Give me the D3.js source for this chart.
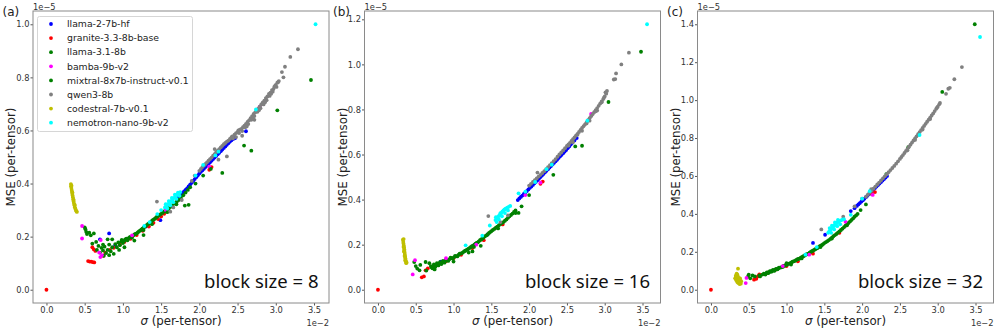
<!DOCTYPE html>
<html><head><meta charset="utf-8">
<script src="https://cdn.jsdelivr.net/npm/d3@7"></script>
<style>body{margin:0;background:#fff}</style></head>
<body><div id="chart"></div>
<script>
// ---------- labels / ticks ----------
const models = ["llama-2-7b-hf","granite-3.3-8b-base","llama-3.1-8b","bamba-9b-v2","mixtral-8x7b-instruct-v0.1","qwen3-8b","codestral-7b-v0.1","nemotron-nano-9b-v2"];
const modelColors = ["#0000ff","#ff0000","#008000","#ff00ff","#008000","#808080","#bfbf00","#00ffff"];
const panelLabels = ["(a)","(b)","(c)"];
const blockSizes = [8,16,32];
const xTicks = [0.0,0.5,1.0,1.5,2.0,2.5,3.0,3.5];
const yTicksA = [0.0,0.2,0.4,0.6,0.8,1.0];
const yTicksB = [0.0,0.2,0.4,0.6,0.8,1.0,1.2];
const yTicksC = [0.0,0.2,0.4,0.6,0.8,1.0,1.2,1.4];
// values: sigma in units of 1e-2, MSE in units of 1e-5

// ---------- panel (a): block size 8 ----------
const a_llama2 = [[0.820,0.212],[0.700,0.190],[0.900,0.168],[1.490,0.262],[1.720,0.350],[1.760,0.358],[1.800,0.370],[1.840,0.382],[1.880,0.396],[1.920,0.410],[1.960,0.424],[2.000,0.438],[2.040,0.450],[2.080,0.462],[2.120,0.474],[2.160,0.486],[2.200,0.498],[2.240,0.510],[2.280,0.522],[2.320,0.534],[2.360,0.546],[2.400,0.558],[2.440,0.568],[2.470,0.572],[2.610,0.597],[1.300,0.238],[1.100,0.196],
  [1.74,0.354],[1.78,0.364],[1.82,0.376],[1.86,0.389],[1.90,0.403],[1.94,0.417],[1.98,0.431],[2.02,0.444],[2.06,0.456],[2.10,0.468],[2.14,0.480],[2.18,0.492],[2.22,0.504],[2.26,0.516],[2.30,0.528],[2.34,0.540],[2.38,0.552],[2.42,0.563],[2.455,0.570]];
const a_granite = [[0.000,0.000],[0.545,0.108],[0.565,0.106],[0.585,0.106],[0.605,0.104],[0.625,0.103],[0.600,0.160],[0.620,0.152],[0.640,0.146],[0.745,0.128],[0.770,0.140],[0.830,0.150],[0.880,0.158],[0.960,0.170],[1.020,0.180],[1.100,0.192],[1.180,0.206],[1.260,0.222],[1.340,0.238],[1.400,0.252],[1.460,0.266],[1.500,0.276],[1.540,0.286],[2.130,0.452],[2.160,0.462],[1.700,0.332]];
const a_llama31 = [[0.510,0.228],[0.520,0.218],[0.530,0.210],[0.500,0.235],[0.620,0.212],[0.600,0.174],[0.660,0.150],[0.680,0.165],[0.700,0.140],[0.720,0.158],[0.740,0.148],[0.760,0.162],[0.780,0.138],[0.800,0.150],[0.820,0.170],[0.840,0.145],[0.860,0.160],[0.880,0.135],[0.900,0.172],[0.920,0.160],[0.940,0.178],[0.960,0.168],[0.980,0.182],[1.000,0.176],[1.030,0.190],[1.060,0.186],[1.090,0.198],[1.120,0.196],[1.150,0.208],[1.180,0.212],[1.210,0.220],[1.240,0.226],[1.270,0.234],[1.300,0.240],[1.330,0.248],[1.360,0.254],[1.390,0.262],[1.420,0.268],[1.450,0.276],[1.480,0.282],[1.520,0.290],[1.560,0.300],[1.600,0.306],[1.640,0.318],[1.700,0.330],[1.760,0.346],[1.820,0.366],[1.880,0.386],[0.860,0.190],[0.950,0.150],[1.020,0.160],[1.150,0.185],[0.750,0.128],[0.820,0.130],[1.270,0.225],
  [0.985,0.188],[1.015,0.183],[1.045,0.192],[1.075,0.194],[1.105,0.200],[1.135,0.204],[1.165,0.210],[1.195,0.216],[1.225,0.223],[1.255,0.230],[1.285,0.237],[1.315,0.244],[1.345,0.251],[1.375,0.258],[1.405,0.265],[1.435,0.272],[1.465,0.279],[1.500,0.286],[1.540,0.295],[1.580,0.303],[1.620,0.312],[1.670,0.324],[1.730,0.338],[1.790,0.356],[1.850,0.376]];
const a_bamba = [[0.466,0.240],[0.466,0.193],[0.710,0.187],[0.705,0.123],[0.725,0.130],[0.690,0.140],[1.560,0.300],[2.130,0.464],[1.120,0.205],[2.790,0.690]];
const a_mixtral = [[3.460,0.790],[3.020,0.676],[2.585,0.543],[2.680,0.524],[2.300,0.440],[1.810,0.317],[1.860,0.320],[1.270,0.206],[1.380,0.247],[0.560,0.215],[0.580,0.205],[0.650,0.180],[1.950,0.400],[2.050,0.430],[2.150,0.455],[1.700,0.322],[1.580,0.292],[0.800,0.190],[0.740,0.170]];
const a_qwen = [[2.000,0.448],[2.060,0.468],[2.100,0.480],[2.140,0.492],[2.180,0.505],[2.220,0.518],[2.260,0.530],[2.300,0.542],[2.340,0.553],[2.380,0.562],[2.420,0.574],[2.440,0.570],[2.460,0.584],[2.500,0.594],[2.520,0.590],[2.550,0.606],[2.560,0.598],[2.590,0.618],[2.600,0.612],[2.630,0.632],[2.640,0.624],[2.670,0.646],[2.680,0.640],[2.710,0.662],[2.720,0.654],[2.750,0.676],[2.760,0.670],[2.790,0.690],[2.800,0.684],[2.830,0.706],[2.840,0.698],[2.870,0.722],[2.880,0.714],[2.910,0.738],[2.920,0.730],[2.950,0.752],[2.960,0.746],[2.980,0.764],[3.000,0.772],[3.020,0.780],[3.040,0.786],[3.010,0.764],[2.560,0.580],[2.480,0.575],[2.720,0.640],[2.360,0.502],[2.250,0.490],[3.080,0.820],[3.120,0.840],[3.100,0.800],[3.190,0.877],[3.290,0.906],[1.445,0.332],[1.620,0.294],[1.660,0.310],[1.770,0.338],[1.940,0.430],[1.900,0.410],[2.200,0.530],
  [2.02,0.455],[2.04,0.462],[2.08,0.474],[2.12,0.486],[2.16,0.498],[2.20,0.511],[2.24,0.524],[2.28,0.536],[2.32,0.548],[2.36,0.558],[2.40,0.568],[2.43,0.578],[2.48,0.590],[2.51,0.600],[2.53,0.603],[2.57,0.612],[2.61,0.625],[2.65,0.638],[2.69,0.654],[2.73,0.668],[2.77,0.682],[2.81,0.698],[2.85,0.712],[2.89,0.728],[2.93,0.742],[2.97,0.756],[2.99,0.768],[3.03,0.782],[2.62,0.615],[2.70,0.645],[2.78,0.676],[2.86,0.706],[2.94,0.738]];
const a_codestral = [[0.320,0.398],[0.322,0.390],[0.326,0.383],[0.330,0.376],[0.334,0.369],[0.338,0.362],[0.342,0.355],[0.346,0.348],[0.350,0.340],[0.355,0.332],[0.360,0.325],[0.366,0.318],[0.372,0.311],[0.378,0.305],[0.385,0.300],[0.392,0.296],[0.398,0.293],[0.328,0.392],[0.340,0.366],[0.356,0.338],[0.370,0.320]];
const a_nemotron = [[1.550,0.310],[1.570,0.316],[1.590,0.322],[1.610,0.328],[1.630,0.334],[1.650,0.340],[1.670,0.346],[1.690,0.352],[1.710,0.358],[1.730,0.364],[1.750,0.368],[1.560,0.322],[1.600,0.334],[1.640,0.346],[1.680,0.358],[1.720,0.366],[1.580,0.306],[1.620,0.318],[1.660,0.330],[1.700,0.342],[1.740,0.354],[1.450,0.285],[1.350,0.255],[1.500,0.300],[1.950,0.430],[2.050,0.470],[2.210,0.506],[2.250,0.520],[2.740,0.679],[3.520,1.000],[1.280,0.240]];

// ---------- panel (b): block size 16 ----------
const b_llama2 = [[1.850,0.398],[1.890,0.412],[1.930,0.425],[1.970,0.438],[2.010,0.452],[2.050,0.465],[2.090,0.479],[2.130,0.493],[2.170,0.507],[2.210,0.521],[2.250,0.535],[2.290,0.549],[2.330,0.563],[2.370,0.577],[2.410,0.592],[2.450,0.606],[2.490,0.620],[2.530,0.636],[2.570,0.652],[2.630,0.673],[1.450,0.245],[0.830,0.125],[1.260,0.195],
  [1.87,0.405],[1.91,0.418],[1.95,0.432],[1.99,0.445],[2.03,0.458],[2.07,0.472],[2.11,0.486],[2.15,0.500],[2.19,0.514],[2.23,0.528],[2.27,0.542],[2.31,0.556],[2.35,0.570],[2.39,0.585],[2.43,0.599],[2.47,0.613],[2.51,0.628],[2.55,0.644],[2.60,0.662]];
const b_granite = [[0.000,0.000],[0.580,0.055],[0.608,0.059],[0.630,0.086],[0.660,0.095],[0.720,0.100],[0.800,0.112],[0.900,0.126],[1.000,0.140],[1.100,0.155],[1.250,0.185],[1.400,0.220],[1.650,0.290],[2.150,0.470],[2.180,0.480]];
const b_llama31 = [[0.480,0.123],[0.520,0.094],[0.550,0.086],[0.630,0.123],[0.700,0.105],[0.720,0.095],[0.740,0.112],[0.760,0.102],[0.780,0.118],[0.800,0.108],[0.820,0.122],[0.840,0.114],[0.860,0.128],[0.880,0.120],[0.900,0.134],[0.930,0.128],[0.960,0.142],[0.990,0.138],[1.020,0.150],[1.050,0.148],[1.080,0.160],[1.110,0.162],[1.140,0.170],[1.170,0.176],[1.200,0.182],[1.230,0.190],[1.260,0.196],[1.290,0.205],[1.320,0.210],[1.350,0.220],[1.380,0.226],[1.410,0.236],[1.440,0.242],[1.470,0.252],[1.500,0.260],[1.540,0.270],[1.580,0.280],[1.620,0.292],[1.660,0.300],[1.700,0.312],[1.740,0.326],[1.780,0.338],[1.820,0.352],[0.680,0.118],[0.750,0.090],[1.000,0.125],[1.200,0.165],[1.360,0.195],
  [0.71,0.100],[0.73,0.104],[0.75,0.107],[0.77,0.110],[0.79,0.113],[0.81,0.115],[0.83,0.118],[0.85,0.121],[0.87,0.124],[0.89,0.127],[0.915,0.131],[0.945,0.135],[0.975,0.140],[1.005,0.144],[1.035,0.149],[1.065,0.154],[1.095,0.160],[1.125,0.166],[1.155,0.173],[1.185,0.179],[1.215,0.186],[1.245,0.193],[1.275,0.200],[1.305,0.208],[1.335,0.215],[1.365,0.223],[1.395,0.231],[1.425,0.239],[1.455,0.247],[1.485,0.256],[1.52,0.265],[1.56,0.275],[1.60,0.286],[1.64,0.296],[1.68,0.306],[1.72,0.319],[1.76,0.332],[1.80,0.345]];
const b_bamba = [[0.460,0.068],[0.490,0.131],[0.900,0.140],[1.300,0.200],[2.820,0.780],[2.150,0.475],[1.950,0.420]];
const b_mixtral = [[3.480,1.056],[3.050,0.833],[2.610,0.636],[2.700,0.639],[2.320,0.510],[1.820,0.340],[1.860,0.341],[1.270,0.190],[0.500,0.105],[0.640,0.085],[0.560,0.110],[1.900,0.370],[2.000,0.420],[1.590,0.272],[1.250,0.170]];
const b_qwen = [[2.000,0.462],[2.050,0.478],[2.100,0.494],[2.150,0.510],[2.200,0.526],[2.250,0.544],[2.300,0.562],[2.350,0.580],[2.400,0.600],[2.450,0.618],[2.500,0.638],[2.540,0.652],[2.580,0.668],[2.620,0.684],[2.660,0.700],[2.700,0.718],[2.740,0.734],[2.780,0.752],[2.820,0.770],[2.860,0.788],[2.900,0.806],[2.940,0.826],[2.980,0.846],[3.000,0.858],[3.020,0.870],[3.030,0.882],[3.010,0.876],[2.960,0.832],[2.880,0.792],[2.760,0.738],[2.640,0.688],[2.520,0.640],[3.120,0.933],[3.140,0.935],[3.150,0.960],[3.220,1.000],[3.320,1.052],[1.460,0.327],[1.620,0.300],[2.110,0.520],[1.720,0.330],
  [2.025,0.470],[2.075,0.486],[2.125,0.502],[2.175,0.518],[2.225,0.535],[2.275,0.553],[2.325,0.571],[2.375,0.590],[2.425,0.609],[2.475,0.628],[2.52,0.645],[2.56,0.660],[2.60,0.676],[2.64,0.692],[2.68,0.709],[2.72,0.726],[2.76,0.743],[2.80,0.761],[2.84,0.779],[2.88,0.797],[2.92,0.816],[2.96,0.836],[2.99,0.852],[2.70,0.705],[2.80,0.750],[2.90,0.795],[2.58,0.655]];
const b_codestral = [[0.330,0.222],[0.340,0.225],[0.335,0.212],[0.338,0.204],[0.342,0.196],[0.345,0.188],[0.348,0.180],[0.350,0.172],[0.353,0.164],[0.356,0.156],[0.359,0.148],[0.362,0.140],[0.366,0.132],[0.370,0.125],[0.374,0.118],[0.378,0.122],[0.360,0.130],[0.352,0.150],[0.344,0.170],[0.338,0.190]];
const b_nemotron = [[1.555,0.309],[1.570,0.316],[1.585,0.322],[1.600,0.328],[1.615,0.334],[1.630,0.340],[1.645,0.346],[1.660,0.352],[1.675,0.356],[1.690,0.360],[1.710,0.364],[1.730,0.368],[1.750,0.372],[1.570,0.300],[1.600,0.312],[1.640,0.326],[1.680,0.340],[1.720,0.352],[1.560,0.322],[1.620,0.340],[1.480,0.285],[1.950,0.435],[2.080,0.478],[2.230,0.535],[2.770,0.750],[3.560,1.178],[1.380,0.240],[1.160,0.197],[2.300,0.555],[1.860,0.428]];

// ---------- panel (c): block size 32 ----------
const c_llama2 = [[1.950,0.450],[1.990,0.465],[2.030,0.480],[2.070,0.496],[2.110,0.512],[2.150,0.528],[2.190,0.544],[2.230,0.560],[2.270,0.576],[2.310,0.592],[2.330,0.600],[1.350,0.247],[1.510,0.290],[1.900,0.430],[1.850,0.415],
  [1.97,0.457],[2.01,0.472],[2.05,0.488],[2.09,0.504],[2.13,0.520],[2.17,0.536],[2.21,0.552],[2.25,0.568],[2.29,0.584],[1.93,0.442]];
const c_granite = [[0.000,0.000],[0.570,0.053],[0.600,0.058],[0.620,0.070],[0.640,0.081],[0.750,0.090],[0.850,0.105],[1.000,0.125],[1.150,0.150],[1.350,0.190],[1.700,0.300],[2.130,0.505],[2.170,0.515]];
const c_llama31 = [[0.490,0.070],[0.520,0.060],[0.580,0.070],[0.700,0.085],[0.720,0.080],[0.740,0.092],[0.760,0.088],[0.780,0.098],[0.800,0.095],[0.820,0.104],[0.840,0.100],[0.860,0.110],[0.880,0.108],[0.900,0.116],[0.930,0.118],[0.960,0.126],[0.990,0.128],[1.020,0.136],[1.050,0.140],[1.080,0.148],[1.110,0.152],[1.140,0.160],[1.170,0.164],[1.200,0.172],[1.230,0.178],[1.260,0.186],[1.290,0.190],[1.320,0.200],[1.350,0.206],[1.380,0.214],[1.410,0.220],[1.440,0.230],[1.470,0.236],[1.500,0.246],[1.540,0.256],[1.580,0.268],[1.620,0.282],[1.660,0.294],[1.700,0.308],[1.740,0.322],[1.780,0.338],[1.820,0.352],[1.860,0.368],[1.900,0.385],[1.940,0.400],[0.640,0.075],[0.680,0.080],[1.000,0.140],[0.950,0.120],[1.060,0.133],
  [0.71,0.083],[0.73,0.086],[0.75,0.090],[0.77,0.093],[0.79,0.096],[0.81,0.099],[0.83,0.102],[0.85,0.105],[0.87,0.109],[0.89,0.112],[0.915,0.117],[0.945,0.122],[0.975,0.127],[1.005,0.132],[1.035,0.138],[1.065,0.144],[1.095,0.150],[1.125,0.156],[1.155,0.162],[1.185,0.168],[1.215,0.175],[1.245,0.182],[1.275,0.188],[1.305,0.195],[1.335,0.203],[1.365,0.210],[1.395,0.217],[1.425,0.225],[1.455,0.233],[1.485,0.241],[1.52,0.251],[1.56,0.262],[1.60,0.275],[1.64,0.288],[1.68,0.301],[1.72,0.315],[1.76,0.330],[1.80,0.345],[1.84,0.360],[1.88,0.376],[1.92,0.392]];
const c_bamba = [[0.460,0.035],[0.470,0.062],[1.780,0.358],[2.140,0.500],[0.950,0.125],[1.300,0.185]];
const c_mixtral = [[3.490,1.400],[3.060,1.043],[2.610,0.752],[2.320,0.610],[0.550,0.075],[0.500,0.080],[0.650,0.070],[1.200,0.165],[1.600,0.270],[1.980,0.420],[2.050,0.450],[1.450,0.225],[1.800,0.340]];
const c_qwen = [[2.050,0.490],[2.100,0.512],[2.150,0.533],[2.200,0.555],[2.250,0.576],[2.300,0.598],[2.350,0.620],[2.400,0.642],[2.450,0.665],[2.500,0.690],[2.540,0.710],[2.580,0.732],[2.620,0.754],[2.660,0.776],[2.700,0.798],[2.740,0.820],[2.780,0.842],[2.820,0.864],[2.860,0.886],[2.900,0.908],[2.940,0.930],[2.980,0.954],[3.000,0.965],[3.020,0.978],[3.030,0.985],[3.110,1.033],[3.140,1.060],[3.160,1.065],[3.220,1.110],[3.320,1.174],[1.460,0.318],[1.750,0.385],[2.000,0.480],[2.120,0.530],[1.900,0.440],
  [2.075,0.501],[2.125,0.522],[2.175,0.544],[2.225,0.565],[2.275,0.587],[2.325,0.609],[2.375,0.631],[2.425,0.653],[2.475,0.677],[2.52,0.700],[2.56,0.721],[2.60,0.743],[2.64,0.765],[2.68,0.787],[2.72,0.809],[2.76,0.831],[2.80,0.853],[2.84,0.875],[2.88,0.897],[2.92,0.919],[2.96,0.942],[2.99,0.960],[2.70,0.790],[2.80,0.845],[2.90,0.900],[2.60,0.735]];
const c_codestral = [[0.320,0.060],[0.330,0.075],[0.335,0.050],[0.340,0.085],[0.345,0.065],[0.350,0.040],[0.355,0.072],[0.360,0.055],[0.362,0.035],[0.368,0.062],[0.372,0.045],[0.378,0.030],[0.382,0.052],[0.388,0.040],[0.395,0.032],[0.400,0.045],[0.330,0.068],[0.348,0.080],[0.358,0.111],[0.366,0.050],[0.385,0.060]];
const c_nemotron = [[1.550,0.300],[1.565,0.308],[1.580,0.316],[1.595,0.322],[1.610,0.330],[1.625,0.336],[1.640,0.342],[1.655,0.348],[1.670,0.354],[1.685,0.358],[1.700,0.362],[1.720,0.366],[1.740,0.370],[1.760,0.372],[1.570,0.325],[1.600,0.338],[1.640,0.355],[1.680,0.368],[1.590,0.300],[1.630,0.318],[1.670,0.335],[1.710,0.345],[1.250,0.185],[1.400,0.225],[2.000,0.480],[2.100,0.520],[2.760,0.816],[3.560,1.333],[1.850,0.395]];

const panelSeries = [
  [a_llama2,a_granite,a_llama31,a_bamba,a_mixtral,a_qwen,a_codestral,a_nemotron],
  [b_llama2,b_granite,b_llama31,b_bamba,b_mixtral,b_qwen,b_codestral,b_nemotron],
  [c_llama2,c_granite,c_llama31,c_bamba,c_mixtral,c_qwen,c_codestral,c_nemotron]
];
const panelYTicks = [yTicksA, yTicksB, yTicksC];

// ---------- drawing ----------
(function(){
const W = 997, H = 332;
const svg = d3.select("#chart").append("svg").attr("width", W).attr("height", H)
  .style("font-family", "'DejaVu Sans', sans-serif");
const lefts = [33, 364.5, 697.5], pw = 296, topY = 11, bottomY = 303;
const fmt = d3.format(".1f");

panelSeries.forEach((series, pi) => {
  const all = series.flat();
  const xe = d3.extent(all, d => d[0]), ye = d3.extent(all, d => d[1]);
  const xm = (xe[1]-xe[0])*0.05, ym = (ye[1]-ye[0])*0.05;
  const L = lefts[pi];
  const x = d3.scaleLinear().domain([xe[0]-xm, xe[1]+xm]).range([L, L+pw]);
  const y = d3.scaleLinear().domain([ye[0]-ym, ye[1]+ym]).range([bottomY, topY]);
  const g = svg.append("g");

  const xa = g.append("g").attr("transform", `translate(0,${bottomY})`)
    .call(d3.axisBottom(x).tickValues(xTicks).tickFormat(fmt).tickSize(2.5).tickPadding(1.2));
  const ya = g.append("g").attr("transform", `translate(${L},0)`)
    .call(d3.axisLeft(y).tickValues(panelYTicks[pi]).tickFormat(fmt).tickSize(2.5).tickPadding(1));
  [xa, ya].forEach(a => {
    a.select(".domain").remove();
    a.selectAll("line").attr("stroke", "#555");
    a.selectAll("text").attr("font-size", 8.3).attr("fill", "#333")
      .style("font-family", "'DejaVu Sans', sans-serif");
  });

  series.forEach((pts, si) => {
    g.append("g").selectAll("circle").data(pts).join("circle")
      .attr("cx", d => x(d[0])).attr("cy", d => y(d[1])).attr("r", 1.9)
      .attr("fill", modelColors[si]);
  });

  g.append("rect").attr("x", L).attr("y", topY).attr("width", pw).attr("height", bottomY-topY)
    .attr("fill", "none").attr("stroke", "#8a8a8a").attr("stroke-width", 1);

  g.append("text").attr("x", L).attr("y", 9.5).attr("font-size", 8.3).attr("fill", "#333").text("1e\u22125");
  g.append("text").attr("x", L+pw).attr("y", 325.5).attr("text-anchor", "end").attr("font-size", 8.3).attr("fill", "#333").text("1e\u22122");

  const xt = g.append("text").attr("x", L+pw/2).attr("y", 325).attr("text-anchor", "middle")
    .attr("font-size", 11.8).attr("fill", "#222");
  xt.append("tspan").attr("font-style", "italic").text("\u03c3");
  xt.append("tspan").text(" (per-tensor)");
  g.append("text").attr("transform", `translate(${L-18},${(topY+bottomY)/2}) rotate(-90)`)
    .attr("text-anchor", "middle").attr("font-size", 11.8).attr("fill", "#222").text("MSE (per-tensor)");

  g.append("text").attr("x", [2.5, 333, 667][pi]).attr("y", 16).attr("font-size", 12).attr("fill", "#222").text(panelLabels[pi]);

  g.append("text").attr("x", L+pw-10.5).attr("y", 288).attr("text-anchor", "end")
    .attr("font-size", 18.5).attr("fill", "#111").style("font-family", "'Noto Sans', sans-serif")
    .text(`block size = ${blockSizes[pi]}`);

  if (pi === 0) {
    const lg = g.append("g");
    lg.append("rect").attr("x", 37.5).attr("y", 16.5).attr("width", 155).attr("height", 115).attr("rx", 2)
      .attr("fill", "#fff").attr("fill-opacity", 0.85).attr("stroke", "#d6d6d6");
    models.forEach((m, i) => {
      const yy = 24 + i*14.1;
      lg.append("circle").attr("cx", 51).attr("cy", yy).attr("r", 1.9).attr("fill", modelColors[i]);
      lg.append("text").attr("x", 67).attr("y", yy).attr("dy", "0.35em").attr("font-size", 9.3)
        .attr("fill", "#222").text(m);
    });
  }
});
})();
</script></body></html>
